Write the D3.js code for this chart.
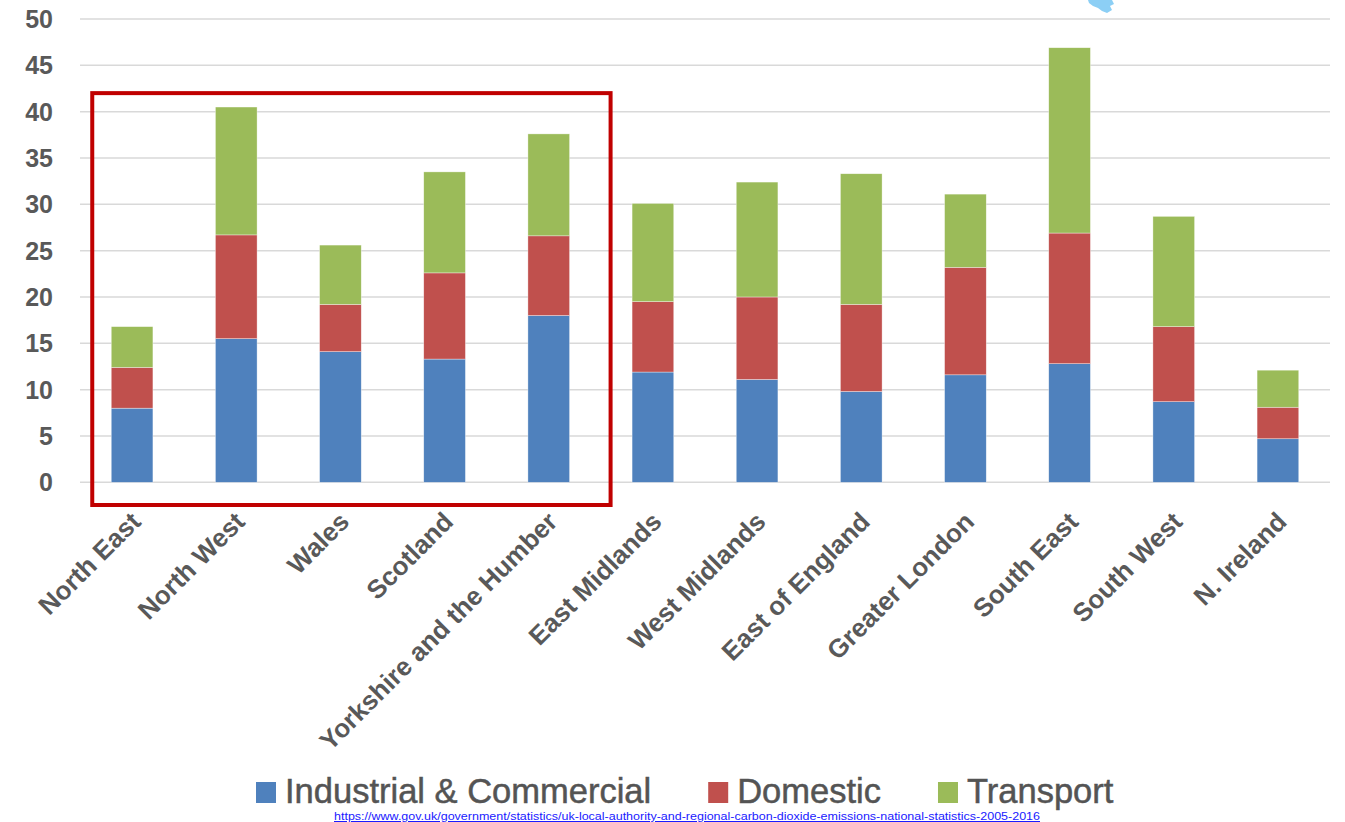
<!DOCTYPE html>
<html><head><meta charset="utf-8">
<script src="https://cdn.jsdelivr.net/npm/d3@7/dist/d3.min.js"></script>
<style>html,body{margin:0;padding:0;background:#fff;overflow:hidden}</style>
</head><body>
<svg id="chart" width="1345" height="822"></svg>
<script>
const categories = ["North East","North West","Wales","Scotland","Yorkshire and the Humber","East Midlands","West Midlands","East of England","Greater London","South East","South West","N. Ireland"];
const industrial = [8.0, 15.5, 14.1, 13.3, 18.0, 11.9, 11.1, 9.8, 11.6, 12.8, 8.7, 4.7];
const domestic   = [4.4, 11.2, 5.1, 9.3, 8.6, 7.6, 8.9, 9.4, 11.6, 14.1, 8.1, 3.4];
const transport  = [4.4, 13.8, 6.4, 10.9, 11.0, 10.6, 12.4, 14.1, 7.9, 20.0, 11.9, 4.0];
const seriesNames = ["Industrial & Commercial","Domestic","Transport"];
const colors = ["#4f81bd","#c0504d","#9bbb59"];
const yTicks = [0,5,10,15,20,25,30,35,40,45,50];
const sourceUrl = "https://www.gov.uk/government/statistics/uk-local-authority-and-regional-carbon-dioxide-emissions-national-statistics-2005-2016";

const svg = d3.select("#chart");
const x = d3.scaleBand().domain(categories).range([80,1330]).paddingInner(0.6).paddingOuter(0.3);
const y = d3.scaleLinear().domain([0,50]).range([482.3,19]);

// gridlines
svg.append("g").selectAll("line").data(yTicks).join("line")
  .attr("x1",80).attr("x2",1330)
  .attr("y1",d=>y(d)).attr("y2",d=>y(d))
  .attr("stroke","#d9d9d9").attr("stroke-width",1.5);

// y tick labels
svg.append("g").selectAll("text").data(yTicks).join("text")
  .attr("x",53).attr("y",d=>y(d)).attr("dy","0.36em")
  .attr("text-anchor","end")
  .attr("font-family","'Liberation Sans', Arial, sans-serif")
  .attr("font-weight","bold").attr("font-size",25).attr("fill","#595959")
  .text(d=>d);

// stacked bars
const rows = categories.map((c,i)=>({cat:c, s0:industrial[i], s1:domestic[i], s2:transport[i]}));
const stack = d3.stack().keys(["s0","s1","s2"])(rows);
svg.append("g").selectAll("g").data(stack).join("g")
  .attr("fill",(d,i)=>colors[i])
  .selectAll("rect").data(d=>d).join("rect")
  .attr("x",d=>x(d.data.cat)).attr("width",x.bandwidth())
  .attr("y",d=>y(d[1])).attr("height",d=>y(d[0])-y(d[1]))
  .attr("stroke","#ffffff").attr("stroke-width",0.6).attr("stroke-opacity",0.6);

// category labels
svg.append("g").selectAll("text").data(categories).join("text")
  .attr("transform",d=>`translate(${x(d)+x.bandwidth()/2-3},510) rotate(-45)`)
  .attr("text-anchor","end").attr("dy","0.72em")
  .attr("font-family","'Liberation Sans', Arial, sans-serif")
  .attr("font-weight","bold").attr("font-size",26).attr("fill","#595959")
  .text(d=>d);

// red highlight box
const bx0 = x(categories[0]) - 19;
const bx1 = x(categories[4]) + x.bandwidth() + 41;
svg.append("rect")
  .attr("x",bx0).attr("y",y(42))
  .attr("width",bx1-bx0).attr("height",y(-2.45)-y(42))
  .attr("fill","none").attr("stroke","#c00000").attr("stroke-width",4);

// legend
const lg = svg.append("g");
let lx = 256;
seriesNames.forEach((n,i)=>{
  lg.append("rect").attr("x",lx).attr("y",782).attr("width",20).attr("height",21).attr("fill",colors[i]);
  const t = lg.append("text").attr("x",lx+29).attr("y",803)
    .attr("font-family","'Liberation Sans', Arial, sans-serif")
    .attr("font-size",34.5).attr("fill","#545454").attr("stroke","#545454").attr("stroke-width",0.5).text(n);
  lx += 29 + t.node().getComputedTextLength() + 57;
});

// source url
svg.append("text").attr("x",687).attr("y",820).attr("text-anchor","middle")
  .attr("font-family","'Liberation Sans', Arial, sans-serif")
  .attr("font-size",11.5).attr("fill","#1a1aff")
  .attr("textLength",706).attr("lengthAdjust","spacingAndGlyphs")
  .attr("text-decoration","underline").text(sourceUrl);

// small logo remnant top-right
svg.append("path")
  .attr("d","M1088,0 L1112,0 L1114,4 L1110,6 L1112,10 L1107,13 L1102,11 L1098,8 L1093,6 L1089,3 Z")
  .attr("fill","#8ccff5");
</script>
</body></html>
